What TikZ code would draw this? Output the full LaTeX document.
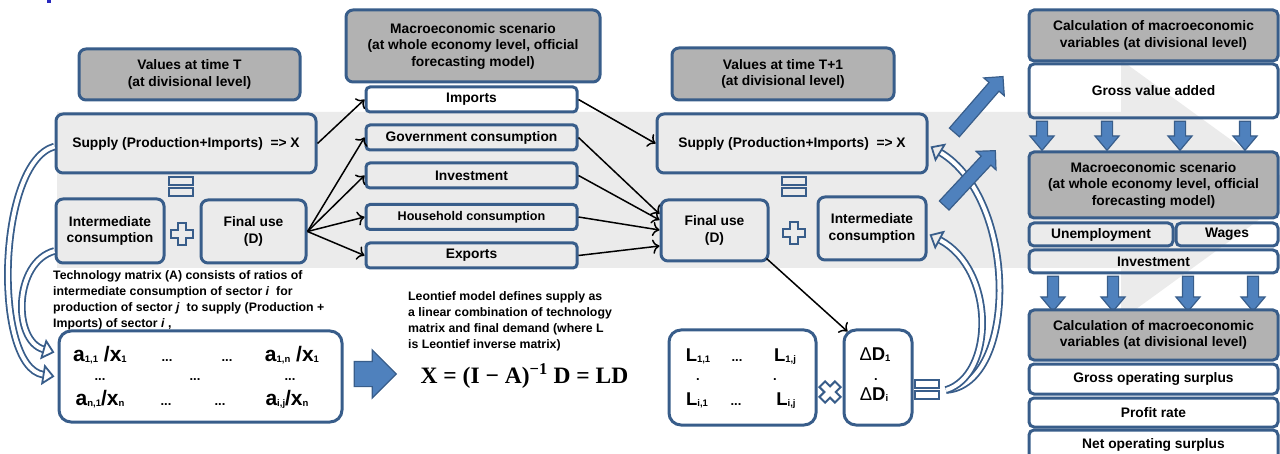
\documentclass[tikz,border=0pt]{standalone}
\usepackage{amsmath}
\usepackage{fontspec}
\setsansfont{Liberation Sans}
\newfontfamily\eqfont{Liberation Serif}
\usepackage{tikz}
\usetikzlibrary{arrows.meta,shapes.arrows}
\usepackage{xcolor}
\definecolor{bbord}{RGB}{56,93,138}
\definecolor{bfill}{RGB}{79,129,189}
\definecolor{hgrey}{RGB}{178,178,178}
\definecolor{band}{RGB}{235,235,235}
\definecolor{titleblue}{RGB}{40,40,190}
\newcommand{\lowidx}[1]{\raisebox{-0.5pt}{\fontsize{9.5}{9.5}\selectfont#1}}

\tikzset{
  box/.style={draw=bbord, line width=3pt, rounded corners=7pt, align=center, inner sep=0pt,
    font=\sffamily\bfseries\fontsize{13.8}{16.5}\selectfont},
  headbox/.style={box, fill=hgrey},
  catbox/.style={box, rounded corners=4pt, minimum width=211pt, minimum height=25pt},
  sidebox/.style={box, rounded corners=5pt, minimum width=249pt},
  matbox/.style={box, rounded corners=12pt},
  txt/.style={align=left, inner sep=0pt, font=\sffamily\bfseries\fontsize{12.3}{16}\selectfont},
  entry/.style={inner sep=0pt, anchor=base, font=\sffamily\bfseries\fontsize{21}{21}\selectfont},
  lent/.style={entry, font=\sffamily\bfseries\fontsize{18.5}{18.5}\selectfont},
  dots/.style={inner sep=0pt, anchor=base, font=\sffamily\bfseries\fontsize{13}{13}\selectfont},
  flow/.style={-{>[scale=1.4]}, line width=1.5pt},
  hollow/.style={draw=bbord, line width=1.8pt, double=white, double distance=4pt,
    -{Triangle[open,length=12pt,width=21pt]}},
  block/.style={single arrow, draw=bbord, fill=bfill, line width=1.2pt, inner sep=0pt},
  signline/.style={draw=bbord, line width=2pt},
  plussign/.pic={
    \draw[signline] (-4,-11) -- (4,-11) -- (4,-4) -- (11,-4) -- (11,4) -- (4,4) -- (4,11)
      -- (-4,11) -- (-4,4) -- (-11,4) -- (-11,-4) -- (-4,-4) -- cycle;},
  eqsign/.pic={
    \draw[signline] (-12,-9.5) rectangle (12,-1.5);
    \draw[signline] (-12,1.5) rectangle (12,9.5);}
}

\begin{document}
\begin{tikzpicture}[x=1pt,y=-1pt]
  \useasboundingbox (0,0) rectangle (1280,454);
  % grey background arrow
  \fill[band] (57,112) -- (1121,112) -- (1121,60) -- (1300,190) -- (1121,320) -- (1121,268) -- (57,268) -- cycle;
  \fill[titleblue] (47,0) rectangle (51,3.5);

  % values at time T
  \node[headbox, minimum width=221pt, minimum height=51pt] (valT) at (189.5,74.5) {Values at time T\\(at divisional level)};
  \node[box, minimum width=260pt, minimum height=59pt] (supT) at (186,143.5) {Supply (Production+Imports)\ \ => X};
  \node[box, minimum width=108pt, minimum height=64pt] (icT) at (110,231) {Intermediate\\consumption};
  \node[box, minimum width=105pt, minimum height=63pt] (fuT) at (253.5,231.5) {Final use\\(D)};
  \pic at (181,187) {eqsign};
  \pic at (182,234.5) {plussign};

  % macroeconomic scenario
  \node[headbox, minimum width=254pt, minimum height=72pt] (macro) at (473,46) {Macroeconomic scenario\\(at whole economy level, official\\forecasting model)};
  \node[catbox, fill=white] (imp) at (471.5,99.5) {Imports};
  \node[catbox] (gov) at (471.5,137.5) {Government consumption};
  \node[catbox] (inv) at (471.5,175.5) {Investment};
  \node[catbox, font=\sffamily\bfseries\fontsize{12.6}{15}\selectfont] (hh) at (471.5,217) {Household consumption};
  \node[catbox] (exp) at (471.5,255.5) {Exports};

  % values at time T+1
  \node[headbox, minimum width=222pt, minimum height=52pt] (valT1) at (783,74) {Values at time T+1\\(at divisional level)};
  \node[box, minimum width=270pt, minimum height=59pt] (supT1) at (792,143.5) {Supply (Production+Imports)\ \ => X};
  \node[box, minimum width=107pt, minimum height=61pt] (fuT1) at (714.5,230.5) {Final use\\(D)};
  \node[box, minimum width=108pt, minimum height=63pt] (icT1) at (872,228.5) {Intermediate\\consumption};
  \pic at (794,187) {eqsign};
  \pic at (793.5,233) {plussign};

  \draw[flow] (supT.east) -- (imp.west);
  \foreach \c in {gov,inv,hh,exp}
    \draw[flow] (fuT.east) -- (\c.west);
  \draw[flow] (imp.east) -- (supT1.west);
  \draw[flow] (gov.east) -- ([yshift=16.5pt]fuT1.west);
  \draw[flow] (inv.east) -- ([yshift=10.5pt]fuT1.west);
  \draw[flow] (hh.east) -- ([yshift=0.5pt]fuT1.west);
  \draw[flow] (exp.east) -- ([yshift=-15.5pt]fuT1.west);

  % technology matrix
  \node[txt, anchor=north west] (techTxt) at (53,270) {Technology matrix (A) consists of ratios of\\intermediate consumption of sector \textit{i}\ \ for\\production of sector \textit{j}\ \ to supply (Production +\\Imports) of sector \textit{i} ,};
  \node[matbox, minimum width=283pt, minimum height=91pt] (matA) at (200.5,376.5) {};
  \node[entry] (a11) at (100,361.7) {a\lowidx{1,1} /x\lowidx{1}};
  \node[dots] (a12) at (167,361.7) {...};
  \node[dots] (a13) at (227,361.7) {...};
  \node[entry] (a1n) at (292,361.7) {a\lowidx{1,n} /x\lowidx{1}};
  \node[dots] (am1) at (100,381) {...};
  \node[dots] (am2) at (195,381) {...};
  \node[dots] (am3) at (290,381) {...};
  \node[entry] (an1) at (100,405.5) {a\lowidx{n,1}/x\lowidx{n}};
  \node[dots] (an2) at (166,405.5) {...};
  \node[dots] (an3) at (220,405.5) {...};
  \node[entry] (aij) at (287,405.5) {a\lowidx{i,j}/x\lowidx{n}};
  \draw[hollow] ([yshift=-3pt]supT.west) .. controls +(-58,16) and +(-62,-10) .. ([xshift=-3pt]matA.west);
  \draw[hollow] ([yshift=-20pt]icT.west) .. controls +(-41,11) and +(-42,-12) .. ([xshift=-3pt,yshift=24pt]matA.west);
  \node[block, minimum height=42pt, single arrow head extend=11.5pt] (toLeon) at (369,374) {\rule{0pt}{24pt}};

  % Leontief model
  \node[txt, anchor=north west] (leonTxt) at (408,291) {Leontief model defines supply as\\a linear combination of technology\\matrix and final demand (where L\\is Leontief inverse matrix)};
  \node[inner sep=0pt, font=\eqfont\bfseries\fontsize{23.5}{24}\selectfont] (leonEq) at (524.5,376) {X = (I − A)\textsuperscript{−1} D = LD};

  % inverse matrix times change of final use
  \node[matbox, minimum width=147pt, minimum height=95pt] (matL) at (742.5,377.5) {};
  \node[lent] (L11) at (698,361.7) {L\lowidx{1,1}};
  \node[dots] (L12) at (737,361.7) {...};
  \node[lent] (L1j) at (785,361.7) {L\lowidx{1,j}};
  \node[dots] (Lm1) at (698,381) {.};
  \node[dots] (Lm2) at (775,381) {.};
  \node[lent] (Li1) at (697,405.7) {L\lowidx{i,1}};
  \node[dots] (Li2) at (736,405.7) {...};
  \node[lent] (Lij) at (786,405.7) {L\lowidx{i,j}};
  \pic[rotate=45] at (830,392) {plussign};
  \node[matbox, minimum width=68pt, minimum height=95pt] (dD) at (878,377.5) {};
  \node[lent] (dD1) at (875,360.7) {{\mdseries Δ}D\lowidx{1}};
  \node[dots] (dDm) at (876,381) {.};
  \node[lent] (dDi) at (874,400.7) {{\mdseries Δ}D\lowidx{i}};
  \pic at (927,389) {eqsign};
  \draw[flow] ([xshift=-3pt,yshift=4pt]fuT1.south east) -- ([xshift=5pt,yshift=-3pt]dD.north west);
  \coordinate (eqOut) at (946,390);
  \draw[hollow] (eqOut) .. controls +(72,-5) and +(88,53) .. ([xshift=2pt,yshift=-3pt]supT1.east);
  \draw[hollow] (eqOut) .. controls +(49,-15) and +(66,35) .. ([xshift=2pt,yshift=-6pt]icT1.east);
  \node[block, minimum height=74pt, single arrow head extend=7pt, rotate=49] (upA) at (976.5,107) {\rule{0pt}{12pt}};
  \node[block, minimum height=75pt, single arrow head extend=7pt, rotate=47] (upB) at (967.5,180.5) {\rule{0pt}{12pt}};

  % divisional macroeconomic variables
  \node[headbox, rounded corners=5pt, minimum width=249pt, minimum height=51pt] (calc1) at (1153.5,35.5) {Calculation of macroeconomic\\variables (at divisional level)};
  \node[sidebox, minimum height=54pt] (gva) at (1153.5,91) {Gross value added};
  \foreach \x [count=\i] in {1042,1107,1180,1245}
    \node[block, rotate=-90, minimum height=29pt, single arrow head extend=6.5pt, single arrow tip angle=80] (downA\i) at (\x,132.5) {\rule{0pt}{10pt}};
  \node[headbox, rounded corners=5pt, minimum width=249pt, minimum height=66pt] (macro2) at (1153.5,185) {Macroeconomic scenario\\(at whole economy level, official\\forecasting model)};
  \node[box, rounded corners=5pt, minimum width=144pt, minimum height=23pt] (unemp) at (1101,234.5) {Unemployment};
  \node[box, rounded corners=5pt, minimum width=102pt, minimum height=23pt] (wages) at (1227,234.5) {Wages};
  \node[sidebox, minimum height=23pt] (invR) at (1153.5,261.5) {Investment};
  \foreach \x [count=\i] in {1053,1113,1188,1253}
    \node[block, rotate=-90, minimum height=35pt, single arrow head extend=6.5pt, single arrow tip angle=80] (downB\i) at (\x,290.5) {\rule{0pt}{10pt}};
  \node[headbox, rounded corners=5pt, minimum width=249pt, minimum height=50pt] (calc2) at (1153.5,335) {Calculation of macroeconomic\\variables (at divisional level)};
  \node[sidebox, minimum height=30pt] (gos) at (1153.5,379) {Gross operating surplus};
  \node[sidebox, minimum height=29pt] (pr) at (1153.5,412.5) {Profit rate};
  \node[sidebox, minimum height=30pt] (nos) at (1153.5,445) {Net operating surplus};
\end{tikzpicture}
\end{document}
